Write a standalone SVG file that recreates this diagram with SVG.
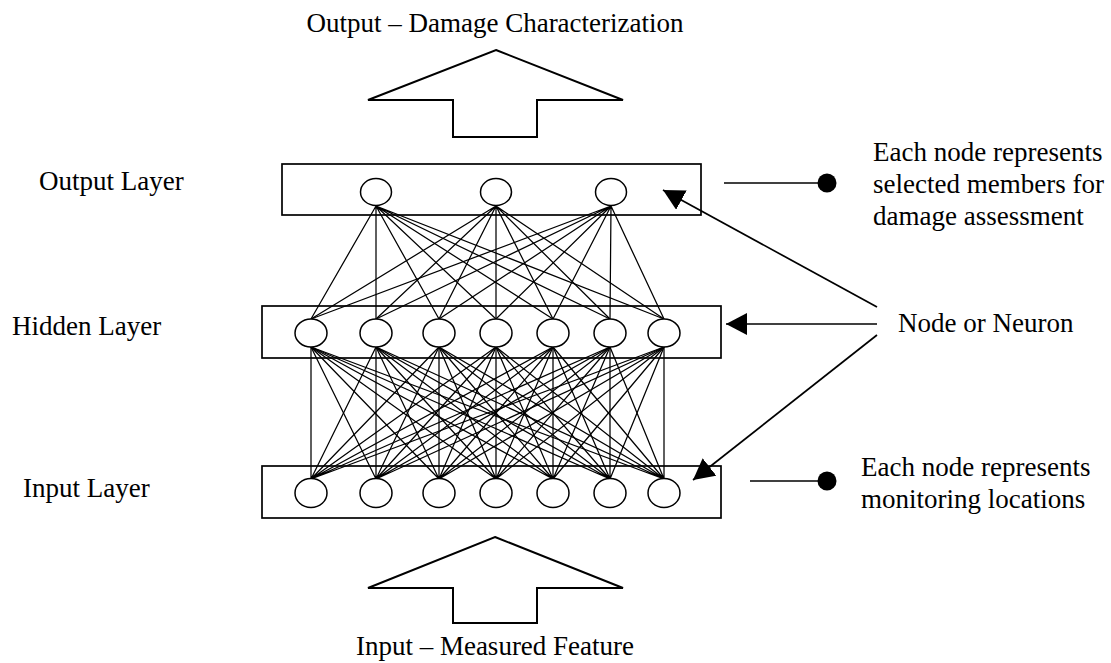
<svg xmlns="http://www.w3.org/2000/svg" width="1111" height="663" viewBox="0 0 1111 663">
  <style>
    text { font-family: "Liberation Serif", "Times New Roman", serif; font-size: 27px; fill: #000; }
    .box { fill: none; stroke: #000; stroke-width: 1.7; }
    .node { fill: #fff; stroke: #000; stroke-width: 1.5; }
    .link { stroke: #000; stroke-width: 1.25; fill: none; }
    .bigarrow { fill: #fff; stroke: #000; stroke-width: 2; stroke-linejoin: miter; }
    .callout { stroke: #000; stroke-width: 1.7; fill: none; }
  </style>
  <defs>
    <marker id="tri" markerUnits="userSpaceOnUse" markerWidth="22" markerHeight="24" refX="21" refY="11" orient="auto">
      <path d="M0,0 L21,11 L0,22 Z" fill="#000"/>
    </marker>
  </defs>
  <rect width="1111" height="663" fill="#fff"/>

  <!-- titles -->
  <g id="title-output"><text x="495" y="32" text-anchor="middle">Output – Damage Characterization</text></g>
  <g id="title-input"><text x="495" y="655" text-anchor="middle">Input – Measured Feature</text></g>

  <!-- block arrows -->
  <g id="arrow-out"><path class="bigarrow" d="M496,50 L623,100 L537,100 L537,137 L453,137 L453,100 L368,100 Z"/></g>
  <g id="arrow-in"><path class="bigarrow" d="M495,537 L623,588 L537,588 L537,623 L453,623 L453,588 L368,588 Z"/></g>

  <!-- layer labels -->
  <g id="label-output"><text x="39" y="190">Output Layer</text></g>
  <g id="label-hidden"><text x="12" y="335">Hidden Layer</text></g>
  <g id="label-input"><text x="23" y="497">Input Layer</text></g>

  <!-- weighted connections -->
  <g id="connectors">
    <!-- hidden to output -->
    <g id="hid-out">
      <path class="link" d="M311,319 L376,206 M376,319 L376,206 M439,319 L376,206 M496,319 L376,206 M553,319 L376,206 M610,319 L376,206 M664,319 L376,206"/>
      <path class="link" d="M311,319 L496,206 M376,319 L496,206 M439,319 L496,206 M496,319 L496,206 M553,319 L496,206 M610,319 L496,206 M664,319 L496,206"/>
      <path class="link" d="M311,319 L611,206 M376,319 L611,206 M439,319 L611,206 M496,319 L611,206 M553,319 L611,206 M610,319 L611,206 M664,319 L611,206"/>
    </g>
    <!-- input to hidden -->
    <g id="in-hid">
      <path class="link" d="M311,479 L311,347 M311,479 L376,347 M311,479 L439,347 M311,479 L496,347 M311,479 L553,347 M311,479 L610,347 M311,479 L664,347"/>
      <path class="link" d="M376,479 L311,347 M376,479 L376,347 M376,479 L439,347 M376,479 L496,347 M376,479 L553,347 M376,479 L610,347 M376,479 L664,347"/>
      <path class="link" d="M439,479 L311,347 M439,479 L376,347 M439,479 L439,347 M439,479 L496,347 M439,479 L553,347 M439,479 L610,347 M439,479 L664,347"/>
      <path class="link" d="M496,479 L311,347 M496,479 L376,347 M496,479 L439,347 M496,479 L496,347 M496,479 L553,347 M496,479 L610,347 M496,479 L664,347"/>
      <path class="link" d="M553,479 L311,347 M553,479 L376,347 M553,479 L439,347 M553,479 L496,347 M553,479 L553,347 M553,479 L610,347 M553,479 L664,347"/>
      <path class="link" d="M610,479 L311,347 M610,479 L376,347 M610,479 L439,347 M610,479 L496,347 M610,479 L553,347 M610,479 L610,347 M610,479 L664,347"/>
      <path class="link" d="M664,479 L311,347 M664,479 L376,347 M664,479 L439,347 M664,479 L496,347 M664,479 L553,347 M664,479 L610,347 M664,479 L664,347"/>
    </g>
    <!-- callouts -->
    <line class="callout" x1="877" y1="307" x2="663" y2="190" marker-end="url(#tri)"/>
    <line class="callout" x1="877" y1="324" x2="726" y2="324" marker-end="url(#tri)"/>
    <line class="callout" x1="877" y1="335" x2="693" y2="480" marker-end="url(#tri)"/>
    <line class="callout" x1="724" y1="183" x2="827" y2="183"/>
    <circle cx="827" cy="183" r="9.5" fill="#000"/>
    <line class="callout" x1="750" y1="481" x2="827" y2="481"/>
    <circle cx="827" cy="481" r="9.5" fill="#000"/>
  </g>

  <!-- output layer -->
  <g id="layer-output">
    <rect class="box" x="282" y="164" width="419" height="51"/>
    <ellipse class="node" cx="376" cy="192" rx="15.5" ry="13.5"/>
    <ellipse class="node" cx="496" cy="192" rx="15.5" ry="13.5"/>
    <ellipse class="node" cx="611" cy="192" rx="15.5" ry="13.5"/>
  </g>

  <!-- hidden layer -->
  <g id="layer-hidden">
    <rect class="box" x="262" y="306" width="459" height="52"/>
    <ellipse class="node" cx="311" cy="333" rx="16" ry="14"/>
    <ellipse class="node" cx="376" cy="333" rx="16" ry="14"/>
    <ellipse class="node" cx="439" cy="333" rx="16" ry="14"/>
    <ellipse class="node" cx="496" cy="333" rx="16" ry="14"/>
    <ellipse class="node" cx="553" cy="333" rx="16" ry="14"/>
    <ellipse class="node" cx="610" cy="333" rx="16" ry="14"/>
    <ellipse class="node" cx="664" cy="333" rx="16" ry="14"/>
  </g>

  <!-- input layer -->
  <g id="layer-input">
    <rect class="box" x="262" y="466" width="459" height="52"/>
    <ellipse class="node" cx="311" cy="493" rx="16" ry="14.5"/>
    <ellipse class="node" cx="376" cy="493" rx="16" ry="14.5"/>
    <ellipse class="node" cx="439" cy="493" rx="16" ry="14.5"/>
    <ellipse class="node" cx="496" cy="493" rx="16" ry="14.5"/>
    <ellipse class="node" cx="553" cy="493" rx="16" ry="14.5"/>
    <ellipse class="node" cx="610" cy="493" rx="16" ry="14.5"/>
    <ellipse class="node" cx="664" cy="493" rx="16" ry="14.5"/>
  </g>

  <!-- notes -->
  <g id="note-output">
    <text x="873" y="161">Each node represents</text>
    <text x="873" y="193">selected members for</text>
    <text x="873" y="225">damage assessment</text>
  </g>
  <g id="note-neuron"><text x="898" y="332">Node or Neuron</text></g>
  <g id="note-input">
    <text x="861" y="476">Each node represents</text>
    <text x="861" y="508">monitoring locations</text>
  </g>
</svg>
